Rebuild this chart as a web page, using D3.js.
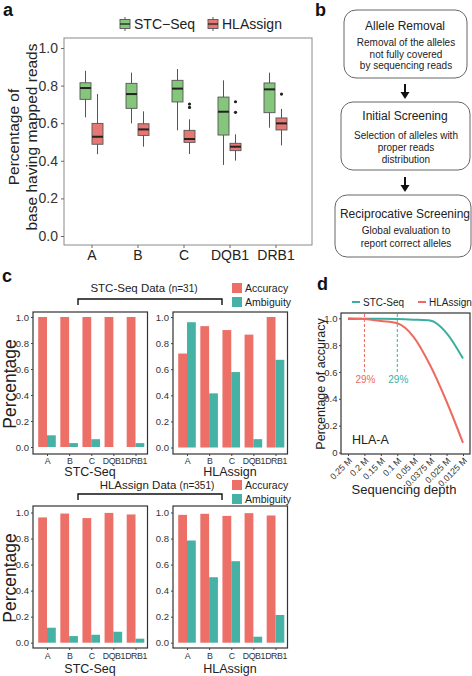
<!DOCTYPE html>
<html><head><meta charset="utf-8">
<script src="https://cdn.jsdelivr.net/npm/d3@7"></script>
<style>
body{margin:0;background:#fff}
svg{display:block}
text{font-family:"Liberation Sans",Arial,sans-serif}
</style>
</head><body>
<svg id="fig" width="472" height="676"></svg>
<script>
// ---------- DATA ----------
// Panel a: box stats [min, q1, median, q3, max]
const boxCategories = ["A", "B", "C", "DQB1", "DRB1"];
const boxSeries = ["STC\u2212Seq", "HLAssign"];
const stcSeqBoxStats = [
  [0.631, 0.727, 0.787, 0.815, 0.879],
  [0.599, 0.679, 0.755, 0.812, 0.869],
  [0.562, 0.713, 0.784, 0.828, 0.888],
  [0.378, 0.537, 0.661, 0.739, 0.828],
  [0.576, 0.656, 0.780, 0.814, 0.869]
];
const hlaAssignBoxStats = [
  [0.435, 0.488, 0.528, 0.599, 0.755],
  [0.475, 0.535, 0.567, 0.597, 0.663],
  [0.436, 0.498, 0.516, 0.562, 0.621],
  [0.401, 0.454, 0.475, 0.493, 0.541],
  [0.482, 0.564, 0.599, 0.628, 0.676]
];
const hlaAssignOutliers = [[], [], [0.702, 0.684], [0.714, 0.658], [0.755]];
const boxYTicks = [0, 0.2, 0.4, 0.6, 0.8, 1.0];

// Panel b
const flowTitles = ["Allele Removal", "Initial Screening", "Reciprocative Screening"];
const flowBodies = [
  ["Removal of the alleles", "not fully covered", "by sequencing reads"],
  ["Selection of alleles with", "proper reads", "distribution"],
  ["Global evaluation to", "report correct alleles"]
];

// Panel c
const barCategories = ["A", "B", "C", "DQB1", "DRB1"];
const barSeries = ["Accuracy", "Ambiguity"];
const stcDataStcAccuracy = [1.0, 1.0, 1.0, 1.0, 1.0];
const stcDataStcAmbiguity = [0.09, 0.03, 0.06, 0.0, 0.03];
const stcDataHlaAccuracy = [0.72, 0.93, 0.90, 0.865, 1.0];
const stcDataHlaAmbiguity = [0.96, 0.415, 0.578, 0.064, 0.672];
const hlaDataStcAccuracy = [0.962, 0.992, 0.957, 0.997, 0.985];
const hlaDataStcAmbiguity = [0.115, 0.051, 0.061, 0.084, 0.031];
const hlaDataHlaAccuracy = [0.982, 0.99, 0.974, 0.995, 0.977];
const hlaDataHlaAmbiguity = [0.785, 0.503, 0.626, 0.046, 0.213];
const barYTicks = [0, 0.2, 0.4, 0.6, 0.8, 1.0];

// Panel d
const depthLabels = ["0.25 M", "0.2 M", "0.15 M", "0.1 M", "0.05 M", "0.0375 M", "0.025 M", "0.0125 M"];
const stcSeqAccuracy = [0.995, 0.997, 0.997, 0.995, 0.99, 0.983, 0.89, 0.70];
const hlaAssignAccuracy = [1.0, 0.995, 0.98, 0.963, 0.86, 0.65, 0.38, 0.072];
const depthYTicks = [0, 0.2, 0.4, 0.6, 0.8, 1.0];
const thresholdMarks = [{depth: "0.2 M", label: "29%", series: "HLAssign"}, {depth: "0.1 M", label: "29%", series: "STC-Seq"}];

// ---------- STYLE ----------
const GREEN = "#86c67c", RED_BOX = "#e57873", BOX_STROKE = "#555";
const RED = "#ec6f68", TEAL = "#46b2a5";
const LINE_RED = "#ee6a60", LINE_TEAL = "#3aaf9f";
const FONT = "Liberation Sans, Arial, sans-serif";

const svg = d3.select("#fig");

function panelLabel(t, x, y) {
  svg.append("text").attr("x", x).attr("y", y).attr("font-size", 18).attr("font-weight", "bold").attr("fill", "#111").text(t);
}

// ---------- PANEL A ----------
(function () {
  const ya = d3.scaleLinear().domain([0, 1]).range([236, 48]);
  const xa = d3.scalePoint().domain(boxCategories).range([91.5, 275.5]);
  const g = svg.append("g");
  g.append("rect").attr("x", 64).attr("y", 38).attr("width", 248).attr("height", 207)
    .attr("fill", "none").attr("stroke", "#8a8a8a").attr("stroke-width", 1);

  const yAx = g.append("g").attr("transform", "translate(64,0)")
    .call(d3.axisLeft(ya).tickValues(boxYTicks).tickFormat(d3.format(".1f")).tickSize(3).tickPadding(3));
  yAx.select(".domain").remove();
  yAx.selectAll("line").attr("stroke", "#666");
  yAx.selectAll("text").attr("font-size", 14).attr("fill", "#333").attr("font-family", FONT);

  const xAx = g.append("g").attr("transform", "translate(0,245)")
    .call(d3.axisBottom(xa).tickSize(3));
  xAx.select(".domain").remove();
  xAx.selectAll("line").attr("stroke", "#666");
  xAx.selectAll("text").attr("dy", null).attr("y", 15).attr("font-size", 14).attr("fill", "#222").attr("font-family", FONT);

  const stats = [stcSeqBoxStats, hlaAssignBoxStats];
  const fills = [GREEN, RED_BOX];
  const offs = [-6, 6];
  const bw = 11;
  stats.forEach((st, s) => {
    boxCategories.forEach((c, i) => {
      const [mn, q1, md, q3, mx] = st[i];
      const cx = xa(c) + offs[s];
      g.append("line").attr("x1", cx).attr("x2", cx).attr("y1", ya(mx)).attr("y2", ya(mn))
        .attr("stroke", BOX_STROKE).attr("stroke-width", 1);
      g.append("rect").attr("x", cx - bw / 2).attr("width", bw).attr("y", ya(q3)).attr("height", ya(q1) - ya(q3))
        .attr("fill", fills[s]).attr("stroke", BOX_STROKE).attr("stroke-width", 0.9);
      g.append("line").attr("x1", cx - bw / 2).attr("x2", cx + bw / 2).attr("y1", ya(md)).attr("y2", ya(md))
        .attr("stroke", "#222").attr("stroke-width", 2);
      if (s === 1) {
        hlaAssignOutliers[i].forEach(v => {
          g.append("circle").attr("cx", cx).attr("cy", ya(v)).attr("r", 1.6).attr("fill", "#222");
        });
      }
    });
  });

  const legX = [120, 208];
  boxSeries.forEach((name, s) => {
    const lx = legX[s];
    g.append("line").attr("x1", lx + 5).attr("x2", lx + 5).attr("y1", 17).attr("y2", 31).attr("stroke", BOX_STROKE);
    g.append("rect").attr("x", lx).attr("y", 19.5).attr("width", 10).attr("height", 9)
      .attr("fill", fills[s]).attr("stroke", BOX_STROKE).attr("stroke-width", 0.9);
    g.append("line").attr("x1", lx).attr("x2", lx + 10).attr("y1", 24).attr("y2", 24).attr("stroke", "#222").attr("stroke-width", 1.3);
    g.append("text").attr("x", lx + 14).attr("y", 29).attr("font-size", 14).attr("fill", "#222").text(name);
  });

  g.append("text").attr("transform", "translate(19,137) rotate(-90)").attr("text-anchor", "middle")
    .attr("font-size", 15.5).attr("fill", "#222").text("Percentage of");
  g.append("text").attr("transform", "translate(37,137) rotate(-90)").attr("text-anchor", "middle")
    .attr("font-size", 15.5).attr("fill", "#222").text("base having mapped reads");
  panelLabel("a", 3, 16);
})();

// ---------- PANEL B ----------
(function () {
  const boxes = [
    {x: 344, y: 10, w: 123, h: 68, ty: 30, by: [46, 57.5, 69]},
    {x: 341, y: 102, w: 129, h: 68, ty: 120, by: [139, 151, 162.5]},
    {x: 335, y: 195, w: 136, h: 62, ty: 218, by: [234, 247]}
  ];
  const cx = 405;
  boxes.forEach((b, i) => {
    svg.append("rect").attr("x", b.x).attr("y", b.y).attr("width", b.w).attr("height", b.h)
      .attr("rx", 12).attr("ry", 12).attr("fill", "#fff").attr("stroke", "#666").attr("stroke-width", 1);
    svg.append("text").attr("x", cx).attr("y", b.ty).attr("text-anchor", "middle").attr("font-size", 12)
      .attr("fill", "#222").text(flowTitles[i]);
    flowBodies[i].forEach((t, k) => {
      svg.append("text").attr("x", cx + 1).attr("y", b.by[k]).attr("text-anchor", "middle").attr("font-size", 10)
        .attr("fill", "#222").text(t);
    });
  });
  [[84, 99], [177, 192]].forEach(([y1, y2]) => {
    svg.append("line").attr("x1", cx).attr("x2", cx).attr("y1", y1).attr("y2", y2 - 5).attr("stroke", "#111").attr("stroke-width", 2);
    svg.append("path").attr("d", `M${cx - 4.5},${y2 - 7} L${cx + 4.5},${y2 - 7} L${cx},${y2} Z`).attr("fill", "#111");
  });
  panelLabel("b", 315, 16);
})();

// ---------- PANEL C ----------
function barPanel(x0, yTop, yBot, y0px, y1px, acc, amb, title, showYLabel, titleY, tickY) {
  const g = svg.append("g");
  const y = d3.scaleLinear().domain([0, 1]).range([y0px, y1px]);
  const x = d3.scalePoint().domain(barCategories).range([x0 + 14, x0 + 14 + 88.5]);
  const bw = 8.8;
  barCategories.forEach((c, i) => {
    g.append("rect").attr("x", x(c) - bw).attr("width", bw).attr("y", y(acc[i])).attr("height", y(0) - y(acc[i])).attr("fill", RED);
    g.append("rect").attr("x", x(c)).attr("width", bw).attr("y", y(amb[i])).attr("height", y(0) - y(amb[i])).attr("fill", TEAL);
  });
  g.append("rect").attr("x", x0).attr("y", yTop).attr("width", 114.5).attr("height", yBot - yTop)
    .attr("fill", "none").attr("stroke", "#333").attr("stroke-width", 1.2);
  const yAx = g.append("g").attr("transform", `translate(${x0},0)`)
    .call(d3.axisLeft(y).tickValues(barYTicks).tickFormat(d3.format(".1f")).tickSize(2).tickPadding(2));
  yAx.select(".domain").remove();
  yAx.selectAll("line").attr("stroke", "#444");
  yAx.selectAll("text").attr("font-size", 9.5).attr("fill", "#333").attr("font-family", FONT);
  const xAx = g.append("g").attr("transform", `translate(0,${yBot})`).call(d3.axisBottom(x).tickSize(2));
  xAx.select(".domain").remove();
  xAx.selectAll("line").attr("stroke", "#444");
  xAx.selectAll("text").attr("dy", null).attr("y", tickY - yBot).attr("font-size", 8.8).attr("fill", "#333")
    .attr("letter-spacing", -0.45).attr("font-family", FONT);
  g.append("text").attr("x", x0 + 57).attr("y", titleY).attr("text-anchor", "middle").attr("font-size", 12.5)
    .attr("fill", "#222").text(title);
  if (showYLabel) {
    g.append("text").attr("transform", `translate(16,${(yTop + yBot) / 2 + 1}) rotate(-90)`).attr("text-anchor", "middle")
      .attr("font-size", 17.5).attr("fill", "#222").text("Percentage");
  }
}
barPanel(33, 312, 454, 447, 317, stcDataStcAccuracy, stcDataStcAmbiguity, "STC-Seq", true, 476, 464);
barPanel(173, 312, 454, 447.5, 317, stcDataHlaAccuracy, stcDataHlaAmbiguity, "HLAssign", false, 476, 464);
barPanel(33, 506, 648, 642.7, 512.5, hlaDataStcAccuracy, hlaDataStcAmbiguity, "STC-Seq", true, 673, 659);
barPanel(173, 506, 648, 642.7, 512.5, hlaDataHlaAccuracy, hlaDataHlaAmbiguity, "HLAssign", false, 673, 659);

function header(main, sub, cx, ty, by) {
  const t = svg.append("text").attr("x", cx).attr("y", ty).attr("text-anchor", "middle").attr("fill", "#222");
  t.append("tspan").attr("font-size", 11.5).text(main + "  ");
  t.append("tspan").attr("font-size", 10).text(sub);
  svg.append("path").attr("d", `M78,${by + 6} L78,${by} L222,${by} L222,${by + 6}`)
    .attr("fill", "none").attr("stroke", "#111").attr("stroke-width", 1.4);
}
header("STC-Seq Data", "(n=31)", 144, 292, 299);
header("HLAssign Data", "(n=351)", 157, 489, 494);

function barLegend(y) {
  barSeries.forEach((s, k) => {
    svg.append("rect").attr("x", 232).attr("y", y + k * 14).attr("width", 10).attr("height", 10).attr("fill", k ? TEAL : RED);
    svg.append("text").attr("x", 245).attr("y", y + k * 14 + 9).attr("font-size", 10.5).attr("fill", "#222").text(s);
  });
}
barLegend(283);
barLegend(480);
panelLabel("c", 2, 282);

// ---------- PANEL D ----------
(function () {
  const yd = d3.scaleLinear().domain([0, 1]).range([452.5, 318.3]);
  const xd = d3.scalePoint().domain(depthLabels).range([348, 463]);
  const g = svg.append("g");
  g.append("rect").attr("x", 341).attr("y", 313).attr("width", 129).attr("height", 141)
    .attr("fill", "none").attr("stroke", "#333").attr("stroke-width", 1.2);

  const yAx = g.append("g").attr("transform", "translate(341,0)")
    .call(d3.axisLeft(yd).tickValues(depthYTicks).tickFormat(d => d === 0 ? "0" : d3.format(".1f")(d)).tickSize(2).tickPadding(1.5));
  yAx.select(".domain").remove();
  yAx.selectAll("line").attr("stroke", "#444");
  yAx.selectAll("text").attr("font-size", 9.5).attr("fill", "#333").attr("font-family", FONT);

  const xAx = g.append("g").attr("transform", "translate(0,454)").call(d3.axisBottom(xd).tickSize(2));
  xAx.select(".domain").remove();
  xAx.selectAll("line").attr("stroke", "#444");
  xAx.selectAll("text").attr("y", 0)
    .attr("transform", "translate(2,5) rotate(-45)").attr("text-anchor", "end").attr("dy", "0.35em")
    .attr("font-size", 8.8).attr("fill", "#333").attr("font-family", FONT);

  const line = d3.line().x((d, i) => xd(depthLabels[i])).y(d => yd(d)).curve(d3.curveMonotoneX);
  g.append("path").datum(stcSeqAccuracy).attr("d", line).attr("fill", "none").attr("stroke", LINE_TEAL).attr("stroke-width", 2);
  g.append("path").datum(hlaAssignAccuracy).attr("d", line).attr("fill", "none").attr("stroke", LINE_RED).attr("stroke-width", 2);

  thresholdMarks.forEach(m => {
    const col = m.series === "HLAssign" ? LINE_RED : LINE_TEAL;
    const x = xd(m.depth);
    g.append("line").attr("x1", x).attr("x2", x).attr("y1", 314).attr("y2", yd(0.59))
      .attr("stroke", col).attr("stroke-width", 1).attr("stroke-dasharray", "3,2");
    g.append("text").attr("x", x + 1).attr("y", 383).attr("text-anchor", "middle").attr("font-size", 10).attr("fill", col).text(m.label);
  });
  g.append("text").attr("x", 352).attr("y", 444).attr("font-size", 12.5).attr("fill", "#222").text("HLA-A");

  g.append("text").attr("transform", "translate(325,384) rotate(-90)").attr("text-anchor", "middle")
    .attr("font-size", 12.5).attr("fill", "#222").text("Percentage of accuracy");
  g.append("text").attr("x", 404).attr("y", 494).attr("text-anchor", "middle").attr("font-size", 13)
    .attr("fill", "#222").text("Sequencing depth");

  const leg = [{n: "STC-Seq", c: LINE_TEAL, x: 352}, {n: "HLAssign", c: LINE_RED, x: 418}];
  leg.forEach(l => {
    g.append("line").attr("x1", l.x).attr("x2", l.x + 8).attr("y1", 302).attr("y2", 302).attr("stroke", l.c).attr("stroke-width", 2);
    g.append("text").attr("x", l.x + 11).attr("y", 305.5).attr("font-size", 10).attr("fill", "#222").text(l.n);
  });
  panelLabel("d", 317, 290);
})();
</script>
</body></html>
